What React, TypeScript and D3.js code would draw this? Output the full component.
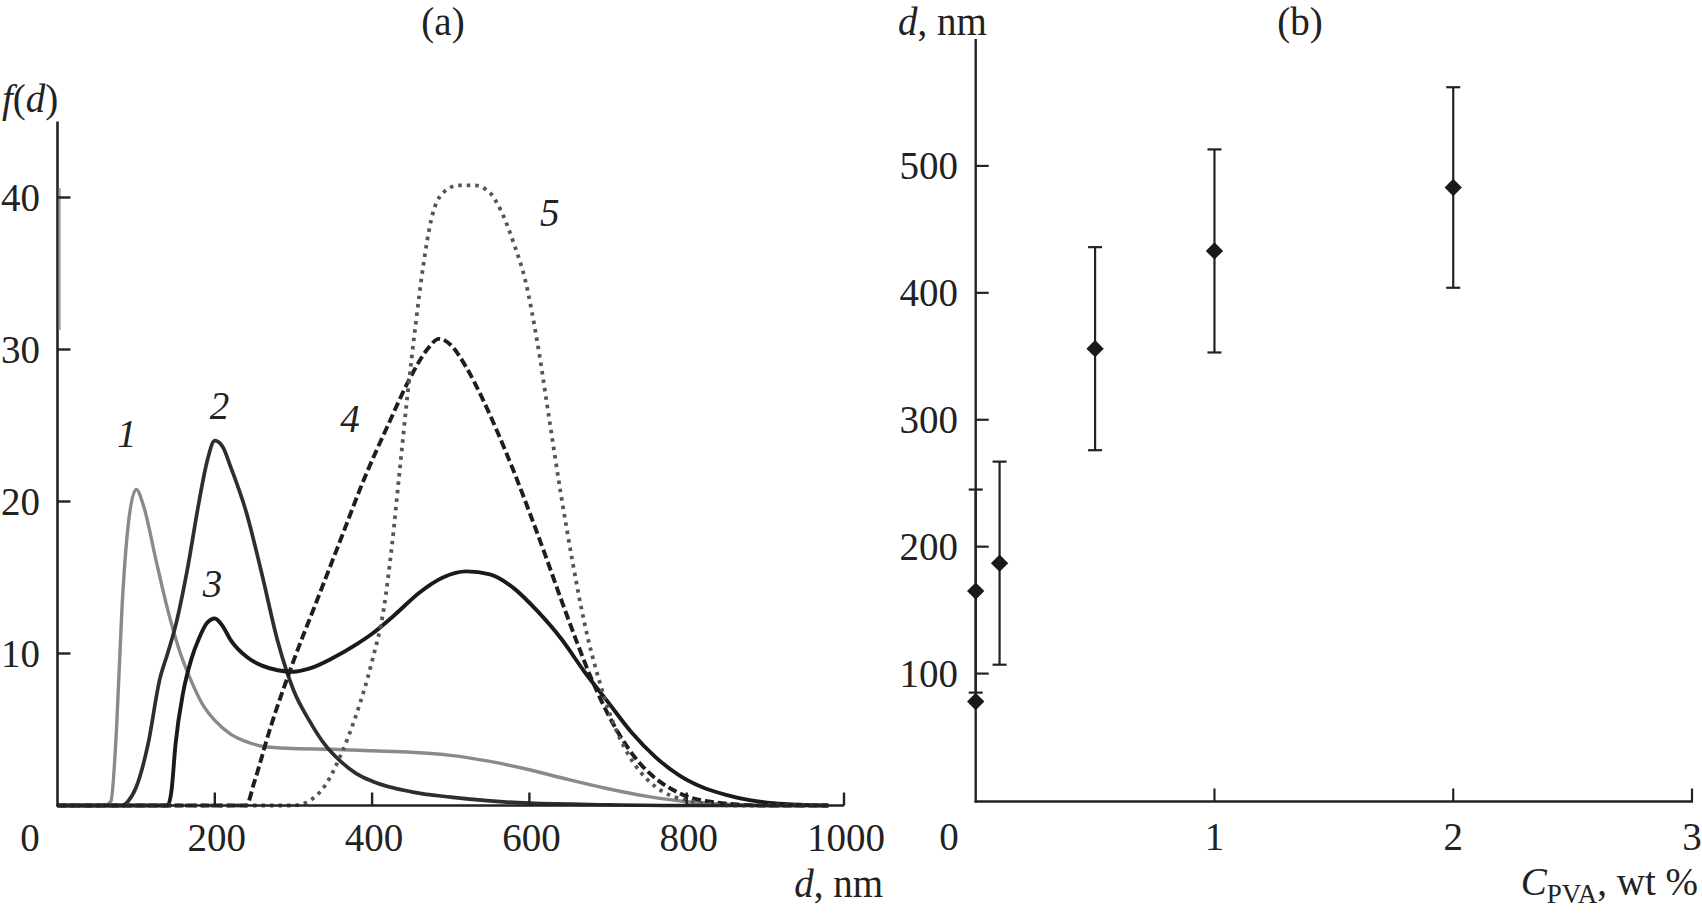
import React from "react";
import * as d3 from "d3";

// ---------- Panel (a): size distributions f(d) ----------
const dTicksA = [0, 200, 400, 600, 800, 1000];
const fTicksA = [10, 20, 30, 40];

const curve1: [number, number][] = [
  [0, 0], [60, 0], [68, 0.3], [75, 5], [82, 13], [90, 18.5], [100, 20.8], [110, 19.6],
  [125, 16.2], [140, 12.9], [155, 10.2], [170, 8.2], [185, 6.6], [200, 5.6], [220, 4.7],
  [240, 4.2], [260, 3.9], [280, 3.8], [300, 3.75], [350, 3.7], [400, 3.6], [450, 3.5],
  [500, 3.3], [550, 2.9], [600, 2.35], [650, 1.7], [700, 1.1], [750, 0.6], [800, 0.25],
  [850, 0.08], [900, 0], [980, 0],
];
const curve2: [number, number][] = [
  [0, 0], [82, 0], [90, 0.3], [100, 1.2], [115, 4], [130, 8.3], [140, 10], [150, 11.8],
  [165, 15.5], [180, 20], [190, 22.6], [200, 24], [210, 23.6], [220, 22.3], [240, 19.3],
  [260, 15.2], [280, 10.8], [300, 7.6], [320, 5.6], [340, 4.0], [360, 2.9], [380, 2.1],
  [400, 1.6], [450, 0.9], [500, 0.55], [550, 0.3], [600, 0.15], [700, 0.05], [800, 0], [980, 0],
];
const curve3: [number, number][] = [
  [0, 0], [140, 0], [145, 1], [150, 4], [160, 7.5], [170, 9.6], [180, 11], [190, 12],
  [200, 12.3], [210, 11.8], [220, 10.9], [240, 9.8], [260, 9.2], [280, 8.9], [300, 8.8],
  [320, 9.0], [350, 9.7], [380, 10.6], [400, 11.3], [430, 12.6], [460, 14], [490, 15],
  [520, 15.4], [550, 15.2], [580, 14.3], [610, 12.8], [640, 11], [670, 8.8], [700, 6.8],
  [730, 4.8], [760, 3.2], [790, 2], [820, 1.2], [850, 0.7], [880, 0.35], [910, 0.15],
  [950, 0.04], [980, 0],
];
const curve4: [number, number][] = [
  [0, 0], [240, 0], [250, 1.5], [270, 5], [300, 9.5], [330, 13.5], [360, 17.5], [390, 21.5],
  [420, 25], [450, 28.3], [470, 30], [485, 30.7], [500, 30.3], [520, 28.8], [540, 26.8],
  [560, 24.5], [580, 22], [600, 19.3], [620, 16.5], [640, 13.6], [660, 10.8], [680, 8.2],
  [700, 6], [720, 4.2], [740, 2.8], [760, 1.8], [780, 1.1], [800, 0.6], [830, 0.25],
  [860, 0.08], [900, 0], [980, 0],
];
const curve5: [number, number][] = [
  [0, 0], [300, 0], [320, 0.3], [340, 1.3], [360, 3.3], [380, 6], [400, 9.5], [415, 13],
  [425, 17], [435, 22], [445, 27], [455, 31.5], [465, 35.5], [475, 38.5], [490, 40.3],
  [510, 40.8], [530, 40.8], [550, 40.3], [565, 39], [580, 37], [595, 34.5], [610, 30.5],
  [625, 25.5], [640, 20.5], [655, 16], [670, 12], [690, 8], [710, 5], [730, 3], [750, 1.7],
  [770, 0.9], [800, 0.35], [830, 0.1], [860, 0], [980, 0],
];
const curveLabels = ["1", "2", "3", "4", "5"];
const curveLabelPos: [number, number][] = [
  [88, 23.6], [206, 25.4], [197, 13.7], [372, 24.6], [626, 38.1],
];

// ---------- Panel (b): mean diameter vs PVA concentration ----------
const cTicksB = [0, 1, 2, 3];
const dTicksB = [100, 200, 300, 400, 500];
const cPVA = [0, 0, 0.1, 0.5, 1, 2];
const dMean = [78, 165, 187, 356, 433, 483];
const dErr: (number | null)[] = [null, 80, 80, 80, 80, 79];

const FONT = "'Liberation Serif', 'Times New Roman', serif";
const FS = 39;
const INK = "#222";

export default function App() {
  // scales panel (a)
  const xA = d3.scaleLinear().domain([0, 1000]).range([57.5, 844]);
  const yA = d3.scaleLinear().domain([0, 45]).range([805.5, 121.5]);
  // scales panel (b)
  const xB = d3.scaleLinear().domain([0, 3]).range([975.7, 1692]);
  const yB = d3.scaleLinear().domain([0, 600]).range([800.5, 39]);

  const lineA = d3
    .line<[number, number]>()
    .x((d) => xA(d[0]))
    .y((d) => yA(d[1]))
    .curve(d3.curveMonotoneX);

  const curves = [
    { data: curve1, stroke: "#8a8a8a", width: 3.4, dash: undefined },
    { data: curve2, stroke: "#2e2e2e", width: 3.7, dash: undefined },
    { data: curve3, stroke: "#1a1a1a", width: 3.9, dash: undefined },
    { data: curve4, stroke: "#1e1e1e", width: 3.9, dash: "9 4" },
    { data: curve5, stroke: "#555", width: 3.8, dash: "3.5 5" },
  ];

  const diamond = d3.symbol(d3.symbolSquare, 150)() as string;
  const tick = 13;

  const ax0A = xA(0);
  const ay0A = yA(0);
  const ax0B = xB(0);
  const ay0B = yB(0) + 1;

  return (
    <svg
      width={1702}
      height={920}
      style={{ position: "absolute", left: 0, top: 0, background: "#fff" }}
      fontFamily={FONT}
      fontSize={FS}
      fill={INK}
    >
      <rect x={0} y={0} width={1702} height={920} fill="#fff" />

      {/* ================= Panel (a) ================= */}
      <text x={443} y={35} textAnchor="middle">(a)</text>
      <text x={2} y={112}>
        <tspan fontStyle="italic">f</tspan>
        <tspan>(</tspan>
        <tspan fontStyle="italic">d</tspan>
        <tspan>)</tspan>
      </text>

      {/* curves */}
      {curves.map((c, i) => (
        <path
          key={i}
          d={lineA(c.data) as string}
          fill="none"
          stroke={c.stroke}
          strokeWidth={c.width}
          strokeDasharray={c.dash}
          strokeLinejoin="round"
        />
      ))}

      {/* axes */}
      <line x1={ax0A} x2={ax0A} y1={yA(45)} y2={ay0A + 1} stroke={INK} strokeWidth={2.6} />
      <line x1={ax0A + 2.2} x2={ax0A + 2.2} y1={188} y2={330} stroke="#a0a0a0" strokeWidth={2} />
      <line x1={ax0A - 1} x2={xA(1000)} y1={ay0A} y2={ay0A} stroke={INK} strokeWidth={2.6} />
      {fTicksA.map((t) => (
        <g key={"fy" + t}>
          <line x1={ax0A} x2={ax0A + tick} y1={yA(t)} y2={yA(t)} stroke={INK} strokeWidth={2.4} />
          <text x={40} y={yA(t) + 13} textAnchor="end">{t}</text>
        </g>
      ))}
      {dTicksA.map((t) => (
        <g key={"dx" + t}>
          {t > 0 && (
            <line x1={xA(t)} x2={xA(t)} y1={ay0A} y2={ay0A - tick} stroke={INK} strokeWidth={2.4} />
          )}
          <text x={t === 0 ? 30 : xA(t) + 2} y={851} textAnchor="middle">{t}</text>
        </g>
      ))}
      <text x={883} y={897} textAnchor="end">
        <tspan fontStyle="italic">d</tspan>
        <tspan>, nm</tspan>
      </text>

      {/* curve labels */}
      {curveLabels.map((l, i) => (
        <text
          key={"cl" + l}
          x={xA(curveLabelPos[i][0])}
          y={yA(curveLabelPos[i][1])}
          textAnchor="middle"
          fontStyle="italic"
        >
          {l}
        </text>
      ))}

      {/* ================= Panel (b) ================= */}
      <text x={1300} y={35} textAnchor="middle">(b)</text>
      <text x={898} y={35}>
        <tspan fontStyle="italic">d</tspan>
        <tspan>, nm</tspan>
      </text>

      <line x1={ax0B} x2={ax0B} y1={yB(600)} y2={ay0B + 1} stroke={INK} strokeWidth={2.4} />
      <line x1={ax0B - 1} x2={xB(3) + 1} y1={ay0B} y2={ay0B} stroke={INK} strokeWidth={2.4} />
      {dTicksB.map((t) => (
        <g key={"by" + t}>
          <line x1={ax0B} x2={ax0B + tick} y1={yB(t)} y2={yB(t)} stroke={INK} strokeWidth={2.2} />
          <text x={958} y={yB(t) + 13} textAnchor="end">{t}</text>
        </g>
      ))}
      {cTicksB.map((t) => (
        <g key={"bx" + t}>
          {t > 0 && (
            <line x1={xB(t)} x2={xB(t)} y1={ay0B} y2={ay0B - tick} stroke={INK} strokeWidth={2.2} />
          )}
          <text x={t === 0 ? 949 : xB(t)} y={850} textAnchor="middle">{t}</text>
        </g>
      ))}
      <text x={1698} y={895} textAnchor="end">
        <tspan fontStyle="italic">C</tspan>
        <tspan fontSize={27} dy={8}>PVA</tspan>
        <tspan dy={-8}>, wt %</tspan>
      </text>

      {/* error bars and points */}
      {cPVA.map((c, i) => {
        const e = dErr[i];
        const x = xB(c);
        return (
          <g key={"pt" + i}>
            {e !== null && (
              <g stroke={INK} strokeWidth={2.2}>
                <line x1={x} x2={x} y1={yB(dMean[i] + e)} y2={yB(dMean[i] - e)} />
                <line x1={x - 7} x2={x + 7} y1={yB(dMean[i] + e)} y2={yB(dMean[i] + e)} />
                <line x1={x - 7} x2={x + 7} y1={yB(dMean[i] - e)} y2={yB(dMean[i] - e)} />
              </g>
            )}
            <path d={diamond} transform={`translate(${x},${yB(dMean[i])}) rotate(45)`} fill="#1a1a1a" />
          </g>
        );
      })}
    </svg>
  );
}
